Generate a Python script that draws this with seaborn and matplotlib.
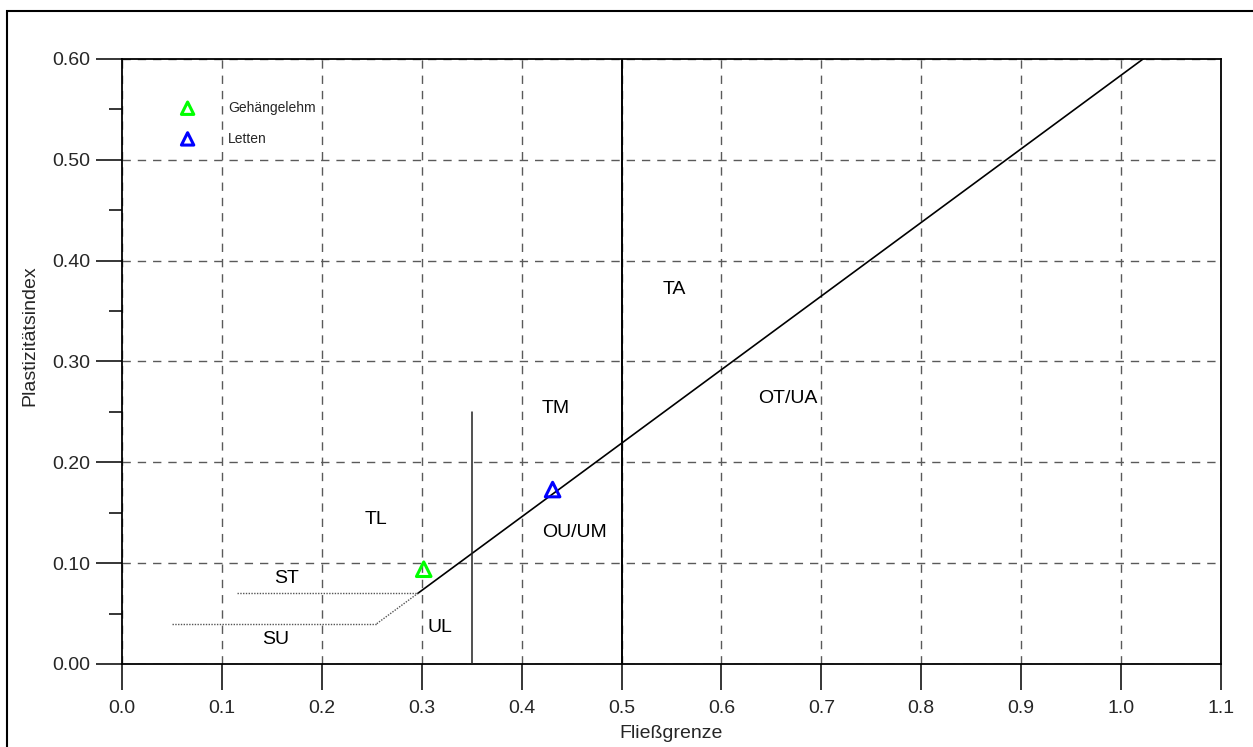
import numpy as np
import pandas as pd
import matplotlib
matplotlib.use("Agg")
import matplotlib.pyplot as plt
from matplotlib.patches import Rectangle
from matplotlib.ticker import MultipleLocator, FormatStrFormatter
import seaborn as sns

# Soil samples: liquid limit (Fließgrenze) and plasticity index
sample_names = ["Gehängelehm", "Letten"]
liquid_limit = [0.302, 0.431]
plasticity_index = [0.094, 0.173]
sample_colors = ["#00ff00", "#0000ff"]

# A-line: Ip = 0.73 * (wL - 0.20), solid above Ip = 0.07
a_line_wl = [0.296, 1.022]
a_line_ip = [0.07, 0.60]
# Dotted transition segment between the SU and ST bands
transition_wl = [0.255, 0.296]
transition_ip = [0.04, 0.07]
# Horizontal dotted boundaries (ST upper / SU upper)
st_bound_wl = [0.115, 0.296]
st_bound_ip = [0.07, 0.07]
su_bound_wl = [0.05, 0.255]
su_bound_ip = [0.04, 0.04]
# Vertical boundaries
ul_bound_wl = [0.35, 0.35]
ul_bound_ip = [0.0, 0.25]
mid_bound_wl = [0.5, 0.5]
mid_bound_ip = [0.0, 0.60]

# Zone labels
zone_names = ["TA", "TM", "OT/UA", "TL", "OU/UM", "ST", "UL", "SU"]
zone_wl = [0.553, 0.434, 0.666, 0.254, 0.453, 0.165, 0.318, 0.154]
zone_ip = [0.371, 0.253, 0.263, 0.143, 0.130, 0.085, 0.036, 0.024]

sns.set_theme(style="white")
plt.rcParams["font.family"] = ["Liberation Sans", "DejaVu Sans"]

W, H = 1253, 747
fig = plt.figure(figsize=(W / 100, H / 100), dpi=100)
ax = fig.add_axes([122 / W, 1 - 664 / H, (1221 - 122) / W, (664 - 59) / H])

# Outer frame around the figure
fig.patches.append(Rectangle((7 / W, -0.05), 1.2, 1 - 11 / H + 0.05,
                             transform=fig.transFigure, fill=False,
                             edgecolor="black", linewidth=1.5, zorder=0))

ax.set_xlim(0, 1.1)
ax.set_ylim(0, 0.6)
ax.xaxis.set_major_locator(MultipleLocator(0.1))
ax.yaxis.set_major_locator(MultipleLocator(0.1))
ax.yaxis.set_minor_locator(MultipleLocator(0.05))
ax.xaxis.set_major_formatter(FormatStrFormatter("%.1f"))
ax.yaxis.set_major_formatter(FormatStrFormatter("%.2f"))

ax.grid(True, which="major", linestyle=(0, (6, 5)), color="#5a5a5a", linewidth=1.0)
ax.set_axisbelow(True)
for s in ax.spines.values():
    s.set_visible(True)
    s.set_color("black")
    s.set_linewidth(1.3)

ax.tick_params(axis="both", which="major", direction="out", length=18.7, width=1.1,
               color="black", labelsize=14, pad=4, left=True, bottom=True)
ax.tick_params(axis="y", which="minor", direction="out", length=9.4, width=1.1,
               color="black", left=True)
ax.tick_params(axis="x", which="major", pad=7)

# Boundary lines
ax.plot(a_line_wl, a_line_ip, color="black", linewidth=1.2, zorder=3)
ax.plot(mid_bound_wl, mid_bound_ip, color="black", linewidth=1.4, zorder=3)
ax.plot(ul_bound_wl, ul_bound_ip, color="#222222", linewidth=1.1, zorder=3)
for wl, ip in [(transition_wl, transition_ip), (st_bound_wl, st_bound_ip), (su_bound_wl, su_bound_ip)]:
    ax.plot(wl, ip, color="#555555", linewidth=1.0, linestyle=(0, (1, 1)), zorder=3)

# Zone labels
for name, x, y in zip(zone_names, zone_wl, zone_ip):
    ax.text(x, y, name, ha="center", va="center", fontsize=14, color="black", zorder=4)

# Samples
df = pd.DataFrame({"wL": liquid_limit, "Ip": plasticity_index, "Probe": sample_names})
for (_, row), col in zip(df.iterrows(), sample_colors):
    ax.scatter([row["wL"]], [row["Ip"]], marker="^", s=110, facecolors="none",
               edgecolors=col, linewidths=2.2, zorder=5, label=row["Probe"])

leg = ax.legend(loc="upper left", bbox_to_anchor=(0.042, 0.94), frameon=False,
                fontsize=10, handletextpad=1.9, labelspacing=1.2, borderaxespad=0,
                markerscale=0.85)

ax.set_xlabel("Fließgrenze", fontsize=14)
ax.xaxis.set_label_coords(0.5, (664 - 725) / 605)
ax.set_ylabel("Plastizitätsindex", fontsize=14, va="center")
ax.yaxis.set_label_coords((30 - 122) / 1099, (664 - 336) / 605)

fig.savefig("out.png", dpi=100)
